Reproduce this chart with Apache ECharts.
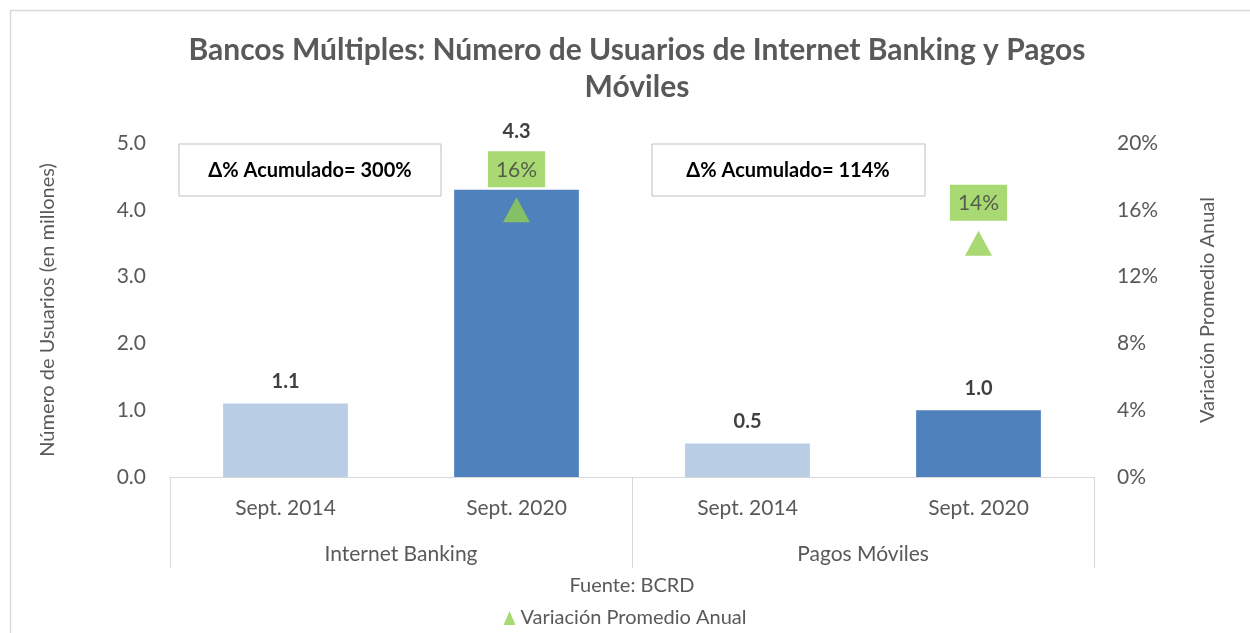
<!DOCTYPE html>
<html><head><meta charset="utf-8">
<script src="https://cdn.jsdelivr.net/npm/echarts@6/dist/echarts.min.js"></script>
<style>html,body{margin:0;padding:0;background:#fff}#c{width:1250px;height:633px}</style>
</head><body><div id="c"></div>
<script>
const groups = ['Internet Banking', 'Pagos Móviles'];
const periods = ['Sept. 2014', 'Sept. 2020', 'Sept. 2014', 'Sept. 2020'];
const users = [1.1, 4.3, 0.5, 1.0];
const avgVar = [null, 16, null, 14];
const accumLabels = ['\u0394% Acumulado= 300%', '\u0394% Acumulado= 114%'];
const leftTicks = [0, 1, 2, 3, 4, 5];
const rightTicks = [0, 4, 8, 12, 16, 20];

const FONT = 'Lato';
const GRAY = '#595959';
const barColors = ['#B9CDE5', '#4F81BD'];

const chart = echarts.init(document.getElementById('c'));
chart.setOption({
  animation: false,
  textStyle: { fontFamily: FONT },
  title: {
    text: 'Bancos Múltiples: Número de Usuarios de Internet Banking y Pagos\nMóviles',
    left: 632, top: 27, textAlign: 'center',
    textStyle: { fontFamily: FONT, fontWeight: 'bold', fontSize: 30, color: GRAY, lineHeight: 37 }
  },
  grid: { left: 170, right: 156, top: 143, bottom: 156 },
  legend: {
    bottom: 0, left: 'center',
    data: [{ name: 'Variación Promedio Anual', icon: 'triangle' }],
    itemWidth: 12, itemHeight: 14, itemGap: 4,
    textStyle: { fontFamily: FONT, fontSize: 20, color: GRAY }
  },
  xAxis: [
    {
      type: 'category', data: periods, position: 'bottom',
      axisLine: { show: true, lineStyle: { color: '#D9D9D9', width: 1 } },
      axisTick: { show: false },
      axisLabel: { fontFamily: FONT, fontSize: 21, color: GRAY, margin: 21 }
    },
    {
      type: 'category', data: groups, position: 'bottom', offset: 0,
      axisLine: { show: false },
      axisTick: { show: true, inside: false, length: 91, lineStyle: { color: '#D9D9D9' } },
      axisLabel: { fontFamily: FONT, fontSize: 21, color: GRAY, margin: 67 }
    }
  ],
  yAxis: [
    {
      type: 'value', min: 0, max: 5, interval: 1,
      name: 'Número de Usuarios (en millones)', nameLocation: 'middle', nameGap: 112, nameRotate: 90,
      nameTextStyle: { fontFamily: FONT, fontSize: 20, color: GRAY },
      splitLine: { show: false }, axisLine: { show: false }, axisTick: { show: false },
      axisLabel: { fontFamily: FONT, fontSize: 21, color: GRAY, margin: 24, formatter: v => v.toFixed(1) }
    },
    {
      type: 'value', min: 0, max: 20, interval: 4, position: 'right',
      name: 'Variación Promedio Anual', nameLocation: 'middle', nameGap: 104, nameRotate: 90,
      nameTextStyle: { fontFamily: FONT, fontSize: 20, color: GRAY },
      splitLine: { show: false }, axisLine: { show: false }, axisTick: { show: false },
      axisLabel: { fontFamily: FONT, fontSize: 21, color: GRAY, margin: 23, formatter: v => v + '%' }
    }
  ],
  series: [
    {
      name: 'Usuarios', type: 'bar', xAxisIndex: 0, yAxisIndex: 0, barWidth: '54%',
      data: users.map((v, i) => ({
        value: v,
        itemStyle: { color: barColors[i % 2] },
        label: i === 1 ? { distance: 48 } : undefined
      })),
      label: {
        show: true, position: 'top', distance: 12,
        fontFamily: FONT, fontWeight: 'bold', fontSize: 20, color: '#404040',
        formatter: p => p.value.toFixed(1)
      }
    },
    {
      name: 'Variación Promedio Anual', type: 'scatter', xAxisIndex: 0, yAxisIndex: 1,
      symbol: 'triangle', symbolSize: [27, 25],
      itemStyle: { color: '#92D050' },
      data: avgVar,
      label: {
        show: true, position: 'top', distance: 10,
        backgroundColor: '#92D050', padding: [8, 8, 7, 8],
        fontFamily: FONT, fontSize: 21, color: '#404040',
        formatter: p => p.value + '%'
      }
    }
  ],
  graphic: [
    { type: 'rect', left: 8, top: 8, shape: { width: 1260, height: 640 }, style: { fill: 'none', stroke: '#D9D9D9', lineWidth: 1.5 }, silent: true, z: -1 },
    { type: 'rect', x: 179, y: 144, shape: { x: 0, y: 0, width: 262, height: 52 }, style: { fill: '#fff', stroke: '#BFBFBF', lineWidth: 1 } },
    { type: 'text', x: 310, y: 171, style: { text: accumLabels[0], x: 0, y: 0, align: 'center', verticalAlign: 'middle', font: 'bold 20px Lato', fill: '#000' } },
    { type: 'rect', x: 652, y: 144, shape: { x: 0, y: 0, width: 273, height: 52 }, style: { fill: '#fff', stroke: '#BFBFBF', lineWidth: 1 } },
    { type: 'text', x: 788, y: 171, style: { text: accumLabels[1], x: 0, y: 0, align: 'center', verticalAlign: 'middle', font: 'bold 20px Lato', fill: '#000' } },
    { type: 'text', x: 632, y: 586, style: { text: 'Fuente: BCRD', x: 0, y: 0, align: 'center', verticalAlign: 'middle', font: '20px Lato', fill: GRAY } }
  ]
});
</script></body></html>
